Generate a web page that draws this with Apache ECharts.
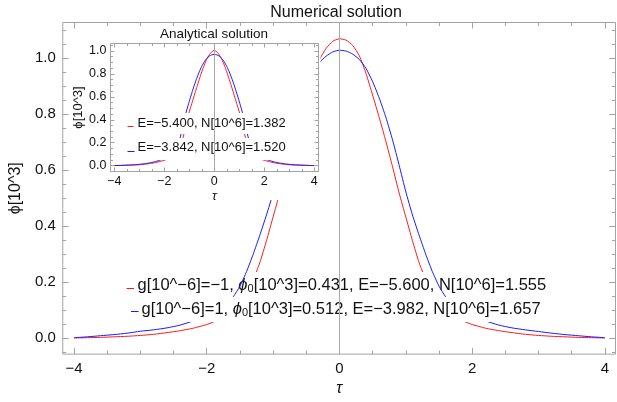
<!DOCTYPE html>
<html><head><meta charset="utf-8">
<script src="https://cdn.jsdelivr.net/npm/echarts@6/dist/echarts.min.js"></script>
<style>html,body{margin:0;padding:0;background:#fff}#c{width:617px;height:402px}</style>
</head><body><div id="c"></div>
<script>
// ---------- data ----------
const tau = [-4.0,-3.8,-3.6,-3.4,-3.2,-3.0,-2.8,-2.6,-2.4,-2.2,-2.0,-1.9,-1.8,-1.7,-1.6,-1.5,-1.4,-1.3,-1.2,-1.1,-1.0,-0.9,-0.8,-0.7,-0.6,-0.5,-0.4,-0.3,-0.2,-0.1,0.0,0.1,0.2,0.3,0.4,0.5,0.6,0.7,0.8,0.9,1.0,1.1,1.2,1.3,1.4,1.5,1.6,1.7,1.8,1.9,2.0,2.2,2.4,2.6,2.8,3.0,3.2,3.4,3.6,3.8,4.0];
const numRed = [0.001,0.002,0.003,0.005,0.007,0.010,0.014,0.020,0.027,0.036,0.049,0.058,0.069,0.083,0.102,0.130,0.165,0.210,0.270,0.348,0.433,0.518,0.610,0.700,0.785,0.862,0.935,0.995,1.035,1.060,
  1.069,
  1.064,1.045,1.008,0.945,0.868,0.787,0.702,0.612,0.518,0.433,0.348,0.270,0.210,0.165,0.130,0.102,0.083,0.069,0.058,0.049,0.036,0.027,0.020,0.014,0.010,0.007,0.005,0.003,0.002,0.001];
const numBlue = [0.002,0.005,0.009,0.013,0.018,0.025,0.030,0.037,0.047,0.062,0.078,0.088,0.100,0.120,0.148,0.186,0.238,0.300,0.368,0.440,0.518,0.610,0.700,0.780,0.850,0.908,0.955,0.985,1.007,1.022,
  1.028,
  1.025,1.014,0.995,0.963,0.916,0.857,0.788,0.708,0.617,0.523,0.440,0.368,0.300,0.238,0.186,0.148,0.120,0.100,0.088,0.078,0.062,0.047,0.037,0.030,0.024,0.018,0.013,0.009,0.005,0.002];
const anaRed = [0.001,0.002,0.003,0.004,0.006,0.008,0.012,0.018,0.025,0.035,0.047,0.055,0.063,0.075,0.091,0.115,0.150,0.205,0.285,0.380,0.470,0.541,0.612,0.683,0.752,0.818,0.877,0.927,0.966,0.993,
  1.005,
  0.993,0.966,0.927,0.877,0.818,0.752,0.683,0.612,0.541,0.470,0.380,0.285,0.205,0.150,0.115,0.091,0.075,0.063,0.055,0.047,0.035,0.025,0.018,0.012,0.008,0.006,0.004,0.003,0.002,0.001];
const anaBlue = [0.001,0.002,0.004,0.006,0.008,0.012,0.017,0.024,0.033,0.046,0.063,0.074,0.087,0.103,0.126,0.160,0.215,0.300,0.400,0.485,0.560,0.632,0.700,0.762,0.818,0.866,0.905,0.935,0.955,0.966,
  0.970,
  0.966,0.955,0.935,0.905,0.866,0.818,0.762,0.700,0.632,0.560,0.485,0.400,0.300,0.215,0.160,0.126,0.103,0.087,0.074,0.063,0.046,0.033,0.024,0.017,0.012,0.008,0.006,0.004,0.002,0.001];

// legend values
const gVals = [-1, 1];
const phi0Vals = [0.431, 0.512];
const eNum = [-5.600, -3.982];
const nNum = [1.555, 1.657];
const eAna = [-5.400, -3.842];
const nAna = [1.382, 1.520];

// tick values
const xMajor = [-4,-2,0,2,4];
const xMinor = [-4,-3.5,-3,-2.5,-2,-1.5,-1,-0.5,0,0.5,1,1.5,2,2.5,3,3.5,4];
const yMajor = [0,0.2,0.4,0.6,0.8,1.0];
const yMinor = [-0.05,0,0.05,0.1,0.15,0.2,0.25,0.3,0.35,0.4,0.45,0.5,0.55,0.6,0.65,0.7,0.75,0.8,0.85,0.9,0.95,1.0,1.05,1.1];

// ---------- styling ----------
const FONT = '"Liberation Sans", Arial, "DejaVu Sans", sans-serif';
const FRAME = '#a3a3a3';
const TXT = '#111';
const RED = '#ff1a1a';
const BLUE = '#1a1aff';
const m = s => String(s).replace(/-/g, '\u2212');
const fmt3 = v => m(v.toFixed(3));

const main = {min:-4.17, max:4.16, ymin:-0.0566, ymax:1.127};
const ins = {min:-4.15, max:4.17, ymin:-0.0506, ymax:1.065};

function within(arr, lo, hi){ return arr.filter(v => v >= lo - 1e-9 && v <= hi + 1e-9); }

function makeX(grid, r, z, major, minor, labelSize, margin, name, nameGap, nameSize){
  const base = {type:'value', gridIndex:grid, min:r.min, max:r.max, z:z, splitLine:{show:false},
    axisLine:{show:false, onZero:false}, silent:true};
  const tickM = {show:true, inside:true, length:major, lineStyle:{color:FRAME, width:1}, customValues:xMajor};
  const tickm = {show:true, inside:true, length:minor, lineStyle:{color:FRAME, width:1}, customValues:xMinor};
  return [
    Object.assign({}, base, {position:'bottom', axisTick:tickM,
      axisLabel:{show:true, customValues:xMajor, formatter:v => m(v), fontSize:labelSize, fontFamily:FONT, color:TXT, margin:margin},
      name:name, nameLocation:'middle', nameGap:nameGap,
      nameTextStyle:{fontSize:nameSize, fontFamily:FONT, fontStyle:'italic', color:TXT}}),
    Object.assign({}, base, {position:'bottom', axisTick:tickm, axisLabel:{show:false}}),
    Object.assign({}, base, {position:'top', axisTick:tickM, axisLabel:{show:false}}),
    Object.assign({}, base, {position:'top', axisTick:tickm, axisLabel:{show:false}})
  ];
}
function makeY(grid, r, z, major, minor, labelSize, margin, name, nameGap, nameSize){
  const base = {type:'value', gridIndex:grid, min:r.ymin, max:r.ymax, z:z, splitLine:{show:false},
    axisLine:{show:false, onZero:false}, silent:true};
  const yM = within(yMajor, r.ymin, r.ymax), ym = within(yMinor, r.ymin, r.ymax);
  const tickM = {show:true, inside:true, length:major, lineStyle:{color:FRAME, width:1}, customValues:yM};
  const tickm = {show:true, inside:true, length:minor, lineStyle:{color:FRAME, width:1}, customValues:ym};
  return [
    Object.assign({}, base, {position:'left', axisTick:tickM,
      axisLabel:{show:true, customValues:yM, formatter:v => v.toFixed(1), fontSize:labelSize, fontFamily:FONT, color:TXT, margin:margin},
      name:name, nameLocation:'middle', nameGap:nameGap,
      nameTextStyle:{fontSize:nameSize, fontFamily:FONT, color:TXT}}),
    Object.assign({}, base, {position:'left', axisTick:tickm, axisLabel:{show:false}}),
    Object.assign({}, base, {position:'right', axisTick:tickM, axisLabel:{show:false}}),
    Object.assign({}, base, {position:'right', axisTick:tickm, axisLabel:{show:false}})
  ];
}

const pairs = arr => tau.map((t, i) => [t, arr[i]]);
function lineSeries(xi, yi, arr, color, z){
  return {type:'line', xAxisIndex:xi, yAxisIndex:yi, data:pairs(arr), showSymbol:false, symbol:'none',
    smooth:0.2, z:z, silent:true, lineStyle:{color:color, width:1}, emphasis:{disabled:true}};
}
function axisMark(xi, yi, z){
  return {type:'line', xAxisIndex:xi, yAxisIndex:yi, data:[], z:z, silent:true,
    markLine:{silent:true, z:z, symbol:'none', animation:false, label:{show:false},
      lineStyle:{color:'#a8a8a8', width:1, type:'solid'}, data:[{xAxis:0}]}};
}

const richMain = {
  t:{fontSize:16.5, fontFamily:FONT, fill:TXT, color:TXT},
  p:{fontSize:16.5, fontFamily:FONT, fontStyle:'italic', color:TXT},
  s:{fontSize:11, fontFamily:FONT, color:TXT, verticalAlign:'bottom', padding:[8,0,0,0]}
};
function mainText(i){
  return '{t|g[10^' + m(-6) + ']=' + m(gVals[i]) + ', }{p|\u03D5}{s|0}{t|[10^3]=' + fmt3(phi0Vals[i]) +
    ', E=' + fmt3(eNum[i]) + ', N[10^6]=' + fmt3(nNum[i]) + '}';
}
function anaText(i){
  return 'E=' + fmt3(eAna[i]) + ', N[10^6]=' + fmt3(nAna[i]);
}

const graphics = [
  // title
  {type:'text', x:336, y:13, z:20, style:{text:'Numerical solution', fontSize:16, fontFamily:FONT, fill:TXT, align:'center', verticalAlign:'middle'}},
  // main legend row 1 (red) — sits above red curve, below blue curve
  {type:'rect', shape:{x:124, y:272, width:428, height:25}, z:3, style:{fill:'#fff'}},
  {type:'line', shape:{x1:126.5, y1:288.5, x2:134, y2:288.5}, z:3, style:{stroke:RED, lineWidth:1}},
  {type:'text', x:137.5, y:285, z:3, style:{text:mainText(0), rich:richMain, fontSize:16.5, fontFamily:FONT, fill:TXT, verticalAlign:'middle'}},
  // main legend row 2 (blue)
  {type:'rect', shape:{x:128, y:297, width:400, height:25}, z:5, style:{fill:'#fff'}},
  {type:'line', shape:{x1:131, y1:311.5, x2:138.5, y2:311.5}, z:5, style:{stroke:BLUE, lineWidth:1}},
  {type:'text', x:141.5, y:309, z:5, style:{text:mainText(1), rich:richMain, fontSize:16.5, fontFamily:FONT, fill:TXT, verticalAlign:'middle'}},
  // inset white backdrop
  {type:'rect', shape:{x:74, y:29, width:246.5, height:171}, z:6, style:{fill:'#fff'}},
  // inset title
  {type:'text', x:214, y:34, z:20, style:{text:'Analytical solution', fontSize:13.5, fontFamily:FONT, fill:TXT, align:'center', verticalAlign:'middle'}},
  // inset legend rows
  {type:'rect', shape:{x:125, y:113, width:177, height:21}, z:9, style:{fill:'#fff'}},
  {type:'line', shape:{x1:127.5, y1:126.5, x2:133.5, y2:126.5}, z:9, style:{stroke:RED, lineWidth:1}},
  {type:'text', x:137.5, y:123, z:9, style:{text:anaText(0), fontSize:13, fontFamily:FONT, fill:TXT, verticalAlign:'middle'}},
  {type:'rect', shape:{x:125, y:138, width:177, height:22}, z:9, style:{fill:'#fff'}},
  {type:'line', shape:{x1:127.5, y1:151.5, x2:134.5, y2:151.5}, z:9, style:{stroke:BLUE, lineWidth:1}},
  {type:'text', x:137.5, y:147, z:9, style:{text:anaText(1), fontSize:13, fontFamily:FONT, fill:TXT, verticalAlign:'middle'}}
];

const option = {
  animation:false,
  backgroundColor:'#fff',
  grid:[
    {left:56.5, top:22.5, right:1.5, bottom:34.5, show:true, borderColor:FRAME, borderWidth:1, backgroundColor:'transparent', z:0},
    {left:110.5, top:43.5, right:298.5, bottom:230.5, show:true, borderColor:FRAME, borderWidth:1, backgroundColor:'#fff', z:7}
  ],
  xAxis: makeX(0, main, 1, 6, 3.5, 15, 7, '\u03C4', 17, 16).concat(makeX(1, ins, 11, 4, 2.5, 12.5, 4, '\u03C4', 12, 13)),
  yAxis: makeY(0, main, 1, 6, 3.5, 15, 7, '\u03D5[10^3]', 32, 16).concat(makeY(1, ins, 11, 4, 2.5, 12.5, 4, '\u03D5[10^3]', 20, 13)),
  series:[
    lineSeries(0, 0, numRed, RED, 2),
    lineSeries(0, 0, numBlue, BLUE, 4),
    axisMark(0, 0, 6),
    lineSeries(4, 4, anaRed, RED, 8),
    lineSeries(4, 4, anaBlue, BLUE, 8),
    axisMark(4, 4, 10)
  ],
  graphic: graphics
};
const chart = echarts.init(document.getElementById('c'), null, {renderer:'canvas'});
chart.setOption(option);
</script></body></html>
